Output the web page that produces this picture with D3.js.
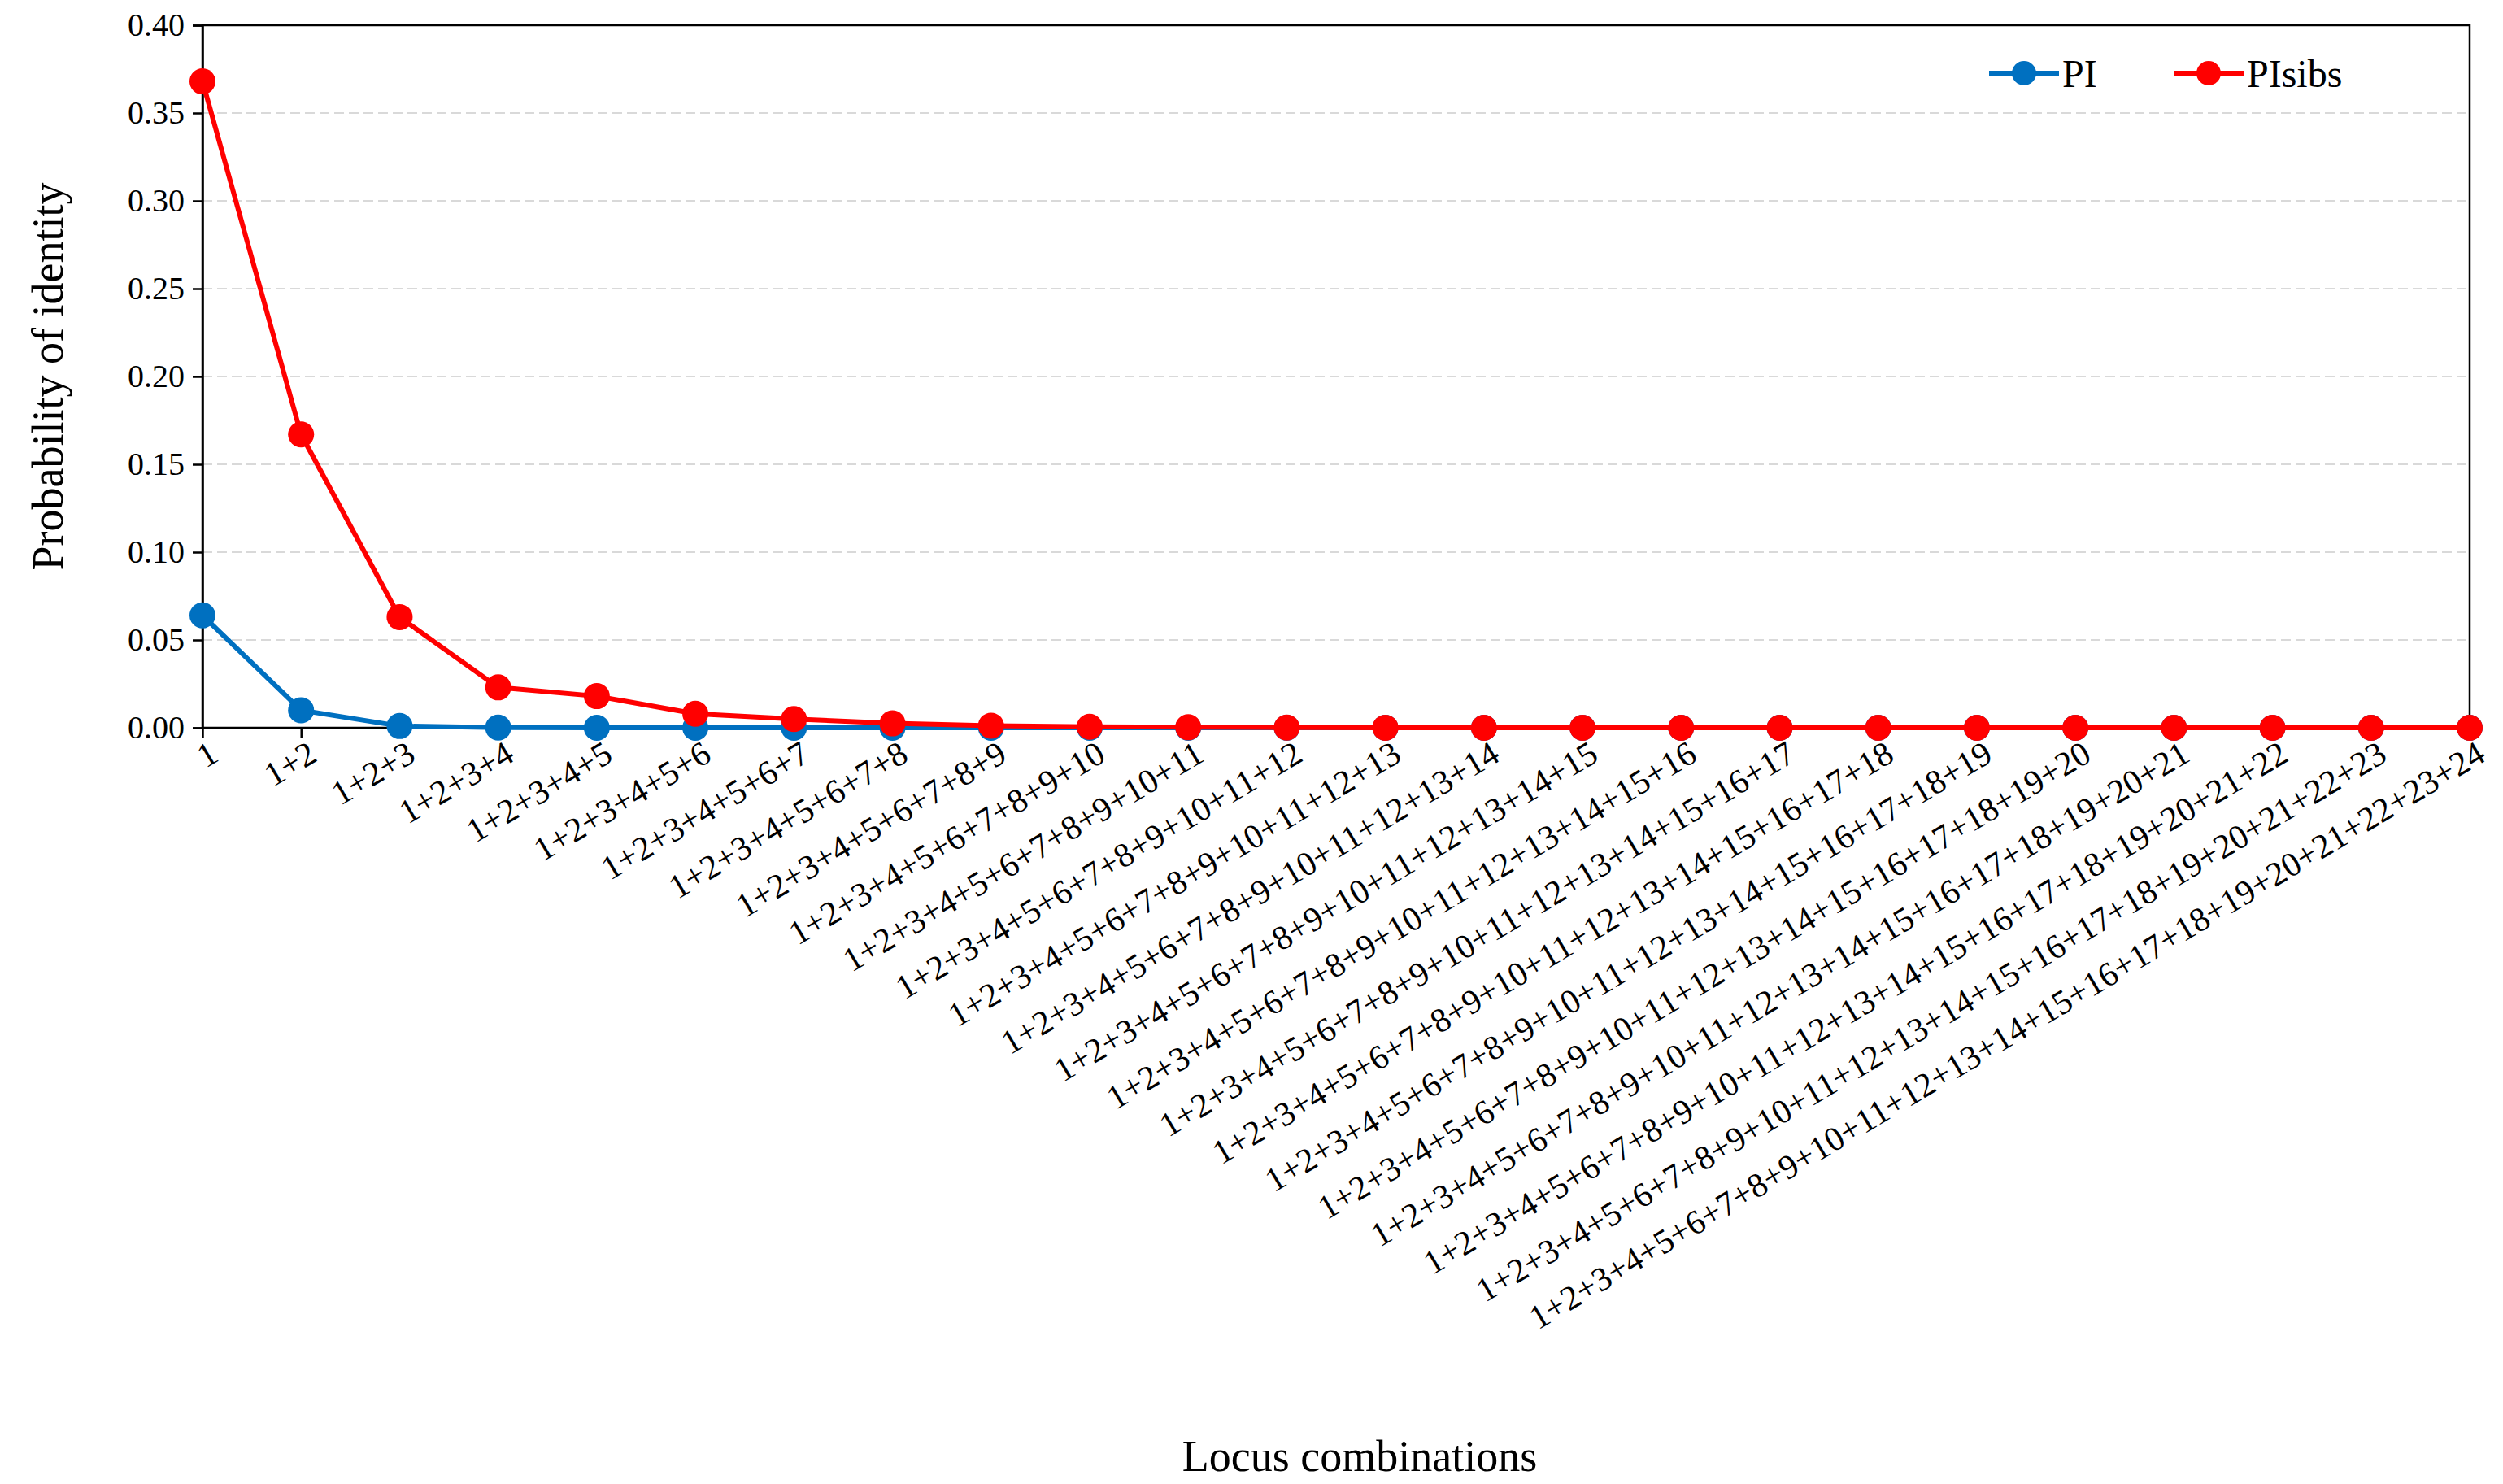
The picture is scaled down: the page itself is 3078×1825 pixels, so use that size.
<!DOCTYPE html>
<html><head><meta charset="utf-8">
<script src="https://cdn.jsdelivr.net/npm/d3@7"></script>
<style>body{margin:0;background:#fff}svg text{font-family:"Liberation Serif","Times New Roman",serif}</style>
</head><body><svg id="chart" width="3078" height="1825"></svg>
<script>
var categories = [];
for (var i = 1; i <= 24; i++) categories.push(d3.range(1, i + 1).join("+"));
var piValues = [0.064, 0.010, 0.001, 0.0001, 0.00001, 0, 0, 0, 0, 0, 0, 0, 0, 0, 0, 0, 0, 0, 0, 0, 0, 0, 0, 0];
var piSibsValues = [0.368, 0.167, 0.063, 0.023, 0.018, 0.008, 0.005, 0.0025, 0.0012, 0.0006, 0.0003, 0.0001, 0.00005, 0, 0, 0, 0, 0, 0, 0, 0, 0, 0, 0];
var yTicks = [0, 0.05, 0.10, 0.15, 0.20, 0.25, 0.30, 0.35, 0.40];

var svg = d3.select('#chart'),
    pLeft = 249, pRight = 3037, pTop = 31, pBottom = 895;

var x = d3.scalePoint().domain(categories).range([pLeft, pRight]);
var y = d3.scaleLinear().domain([0, 0.4]).range([pBottom, pTop]);

// grid
svg.append('g').selectAll('line').data(yTicks.slice(1, -1)).enter().append('line')
    .attr('x1', pLeft).attr('x2', pRight)
    .attr('y1', function(d) { return y(d); }).attr('y2', function(d) { return y(d); })
    .attr('stroke', '#d9d9d9').attr('stroke-width', 2).attr('stroke-dasharray', '12,6');

// frame
svg.append('rect').attr('x', pLeft).attr('y', pTop).attr('width', pRight - pLeft).attr('height', pBottom - pTop)
    .attr('fill', 'none').attr('stroke', '#000').attr('stroke-width', 2.5);

var yAxis = svg.append('g').attr('transform', 'translate(' + pLeft + ',0)')
    .call(d3.axisLeft(y).tickValues(yTicks).tickFormat(d3.format('.2f')).tickSize(12).tickPadding(10));
yAxis.attr('font-family', null);
yAxis.selectAll('text').style('font-size', '40px').attr('fill', '#000');
yAxis.selectAll('line,path').attr('stroke', '#000').attr('stroke-width', 2.5);

var xAxis = svg.append('g').attr('transform', 'translate(0,' + pBottom + ')')
    .call(d3.axisBottom(x).tickSize(12).tickSizeOuter(0));
xAxis.attr('font-family', null);
xAxis.select('path').attr('stroke', '#000').attr('stroke-width', 2.5);
xAxis.selectAll('line').attr('stroke', '#000').attr('stroke-width', 2.5);
xAxis.selectAll('text').style('font-size', '42px').attr('fill', '#000')
    .attr('text-anchor', 'end').attr('dy', '0.35em')
    .attr('transform', 'translate(6,14) rotate(-31)');

var series = [
    { name: 'PI', values: piValues, color: '#0070C0' },
    { name: 'PIsibs', values: piSibsValues, color: '#FF0000' }
];
var line = d3.line().x(function(d, i) { return x(categories[i]); }).y(function(d) { return y(d); });

series.forEach(function(s) {
    svg.append('path').datum(s.values).attr('d', line)
        .attr('fill', 'none').attr('stroke', s.color).attr('stroke-width', 6);
    svg.append('g').selectAll('circle').data(s.values).enter().append('circle')
        .attr('cx', function(d, i) { return x(categories[i]); })
        .attr('cy', function(d) { return y(d); })
        .attr('r', 16).attr('fill', s.color);
});

// legend
var legendX = [2446, 2673];
series.forEach(function(s, i) {
    var g = svg.append('g').attr('transform', 'translate(' + legendX[i] + ',90)');
    g.append('line').attr('x1', 0).attr('x2', 86).attr('stroke', s.color).attr('stroke-width', 6);
    g.append('circle').attr('cx', 43).attr('r', 15).attr('fill', s.color);
    g.append('text').attr('x', 90).attr('dy', '0.35em').style('font-size', '48px').text(s.name);
});

svg.append('text').attr('transform', 'translate(58,463) rotate(-90)').attr('text-anchor', 'middle')
    .attr('dy', '0.35em').style('font-size', '54px').text('Probability of identity');
svg.append('text').attr('x', 1672).attr('y', 1790).attr('text-anchor', 'middle')
    .attr('dy', '0.35em').style('font-size', '54px').text('Locus combinations');
</script></body></html>
